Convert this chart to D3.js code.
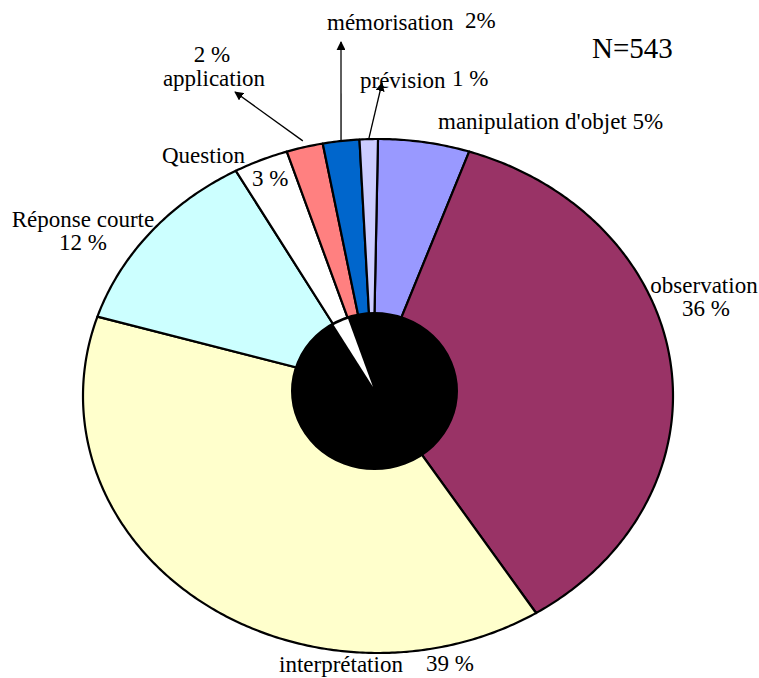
<!DOCTYPE html>
<html>
<head>
<meta charset="utf-8">
<script src="https://cdn.jsdelivr.net/npm/d3@7"></script>
<style>
  html, body { margin: 0; padding: 0; background: #fff; }
  svg { display: block; }
</style>
</head>
<body>
<svg id="chart" width="759" height="678"></svg>
<script>
// Répartition des activités (N = 543), sens horaire depuis midi
const categories = ["manipulation d'objet", "observation", "interprétation", "Réponse courte",
                    "Question", "application", "mémorisation", "prévision"];
const values = [5, 36, 39, 12, 3, 2, 2, 1];
const percentLabels = ["5%", "36 %", "39 %", "12 %", "3 %", "2 %", "2%", "1 %"];
const colors = ["#9999FF", "#993366", "#FFFFCC", "#CCFFFF", "#FFFFFF", "#FF8080", "#0066CC", "#CCCCFF"];
const sampleSize = 543;

const data = categories.map((c, i) => ({ name: c, value: values[i], pct: percentLabels[i], color: colors[i] }));

const FONT = "'Liberation Serif', 'Times New Roman', 'DejaVu Serif', serif";
const svg = d3.select("#chart");

// Ellipse extérieure (camembert incliné) et sommet commun des parts
const cx = 378, cy = 396, rx = 295, ry = 257;
const apex = [373, 387];
// Disque noir central
const hole = { cx: 374.5, cy: 391, rx: 82.5, ry: 78 };

const pie = d3.pie().sort(null).value(d => d.value);
const arcs = pie(data);

const onEllipse = (t, k = 1) => [cx + rx * k * Math.sin(t), cy - ry * k * Math.cos(t)];

function slicePath(a) {
  const n = Math.max(4, Math.ceil((a.endAngle - a.startAngle) / 0.01));
  const pts = [apex];
  for (let i = 0; i <= n; i++) {
    pts.push(onEllipse(a.startAngle + (a.endAngle - a.startAngle) * i / n));
  }
  return d3.line()(pts) + "Z";
}

// Parts
svg.append("g").selectAll("path")
  .data(arcs)
  .join("path")
  .attr("d", slicePath)
  .attr("fill", d => d.data.color)
  .attr("stroke", "#000")
  .attr("stroke-width", 2.2)
  .attr("stroke-linejoin", "round");

// Disque central
const defs = svg.append("defs");
defs.append("clipPath").attr("id", "holeClip")
  .append("ellipse")
  .attr("cx", hole.cx).attr("cy", hole.cy)
  .attr("rx", hole.rx - 1.6).attr("ry", hole.ry - 1.6);

svg.append("ellipse")
  .attr("cx", hole.cx).attr("cy", hole.cy)
  .attr("rx", hole.rx).attr("ry", hole.ry)
  .attr("fill", "#000").attr("stroke", "#000").attr("stroke-width", 2);

// La part « Question » reste visible à travers le disque
svg.append("path")
  .datum(arcs[4])
  .attr("d", slicePath)
  .attr("fill", "#fff")
  .attr("clip-path", "url(#holeClip)");

// Flèches vers les étiquettes des petites parts
defs.append("marker")
  .attr("id", "arrow")
  .attr("viewBox", "0 0 10 10")
  .attr("refX", 9).attr("refY", 5)
  .attr("markerWidth", 9).attr("markerHeight", 9)
  .attr("markerUnits", "userSpaceOnUse")
  .attr("orient", "auto")
  .append("path")
  .attr("d", "M0,0 L10,5 L0,10 Z")
  .attr("fill", "#000");

const mid = a => (a.startAngle + a.endAngle) / 2;
const arrows = [
  { slice: 5, push: 1.025, tip: [235, 92] },
  { slice: 6, push: 1.0, tip: [341, 42] },
  { slice: 7, push: 1.0, tip: [382, 83] }
];
svg.append("g").selectAll("line")
  .data(arrows)
  .join("line")
  .each(function (d) {
    const p = onEllipse(mid(arcs[d.slice]), d.push);
    d3.select(this)
      .attr("x1", p[0]).attr("y1", p[1])
      .attr("x2", d.tip[0]).attr("y2", d.tip[1]);
  })
  .attr("stroke", "#000")
  .attr("stroke-width", 1.3)
  .attr("marker-end", "url(#arrow)");

// Étiquettes
const fs = 23;
const labels = [
  { t: data[0].name + " " + data[0].pct, x: 438, y: 129, a: "start" },
  { t: data[1].name, x: 704, y: 293, a: "middle" },
  { t: data[1].pct, x: 706, y: 316, a: "middle" },
  { t: data[2].name, x: 279, y: 672, a: "start" },
  { t: data[2].pct, x: 426, y: 671, a: "start" },
  { t: data[3].name, x: 83, y: 227, a: "middle" },
  { t: data[3].pct, x: 83, y: 250, a: "middle" },
  { t: data[4].name, x: 162, y: 163, a: "start" },
  { t: data[4].pct, x: 252, y: 186, a: "start" },
  { t: data[5].pct, x: 212, y: 62, a: "middle" },
  { t: data[5].name, x: 214, y: 86, a: "middle" },
  { t: data[6].name, x: 327, y: 30, a: "start" },
  { t: data[6].pct, x: 465, y: 28, a: "start" },
  { t: data[7].name, x: 360, y: 88, a: "start" },
  { t: data[7].pct, x: 452, y: 86, a: "start" }
];
svg.append("g").selectAll("text")
  .data(labels)
  .join("text")
  .attr("x", d => d.x).attr("y", d => d.y)
  .attr("text-anchor", d => d.a)
  .style("font-family", FONT)
  .style("font-size", fs + "px")
  .attr("fill", "#000")
  .text(d => d.t);

svg.append("text")
  .attr("x", 592).attr("y", 58)
  .style("font-family", FONT)
  .style("font-size", "29px")
  .attr("fill", "#000")
  .text("N=" + sampleSize);
</script>
</body>
</html>
